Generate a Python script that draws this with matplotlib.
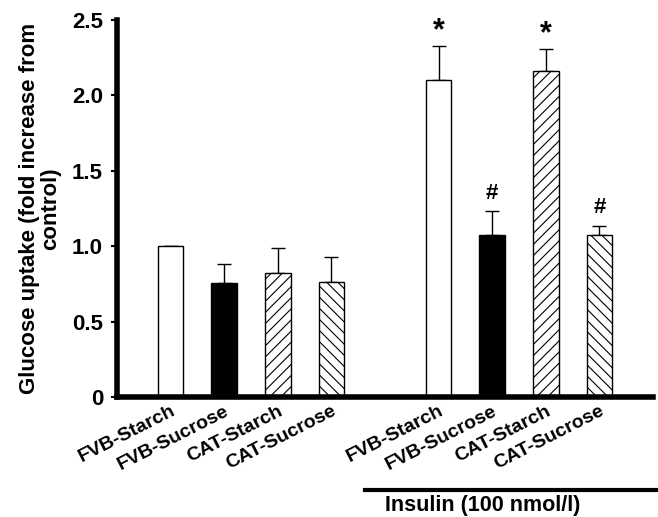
import matplotlib
matplotlib.use("Agg")
import matplotlib.pyplot as plt

# datos
labels = ["FVB-Starch", "FVB-Sucrose", "CAT-Starch", "CAT-Sucrose",
          "FVB-Starch", "FVB-Sucrose", "CAT-Starch", "CAT-Sucrose"]
posiciones = [1, 2, 3, 4, 6, 7, 8, 9]
valores = [1.0, 0.755, 0.825, 0.76, 2.10, 1.075, 2.16, 1.075]
errores = [0.0, 0.13, 0.165, 0.17, 0.225, 0.157, 0.146, 0.06]
marcas = ["", "", "", "", "*", "#", "*", "#"]

colores = ["white", "black", "white", "white"] * 2
tramas = [None, None, "///", "\\\\\\"] * 2

plt.rcParams["font.family"] = ["Liberation Sans", "DejaVu Sans"]
plt.rcParams["font.weight"] = "bold"
plt.rcParams["hatch.linewidth"] = 0.8

fig = plt.figure(figsize=(6.58, 5.17), dpi=100)
ax = fig.add_axes([117 / 658, 1 - 397 / 517, (653 - 117) / 658, 377 / 517])

ax.bar(posiciones, valores, width=0.48, color=colores, edgecolor="black",
       linewidth=1, hatch=tramas, zorder=2)
ax.errorbar(posiciones, valores, yerr=[[0] * len(errores), errores],
            fmt="none", ecolor="black", elinewidth=1, capsize=5, capthick=1,
            zorder=1)

for x, v, e, m in zip(posiciones, valores, errores, marcas):
    if m:
        dy = 0.0 if m == "*" else 0.05
        ax.text(x, v + e + dy, m, ha="center", va="bottom",
                fontsize=22 if m == "*" else 16, fontweight="bold")

ax.set_xlim(0, 10)
ax.set_ylim(0, 2.5)
ax.set_yticks([0, 0.5, 1.0, 1.5, 2.0, 2.5])
ax.set_yticklabels(["0", "0.5", "1.0", "1.5", "2.0", "2.5"],
                   fontsize=16, fontweight="bold")
ax.set_xticks(posiciones)
ax.set_xticklabels(labels, rotation=27, ha="right", rotation_mode="anchor",
                   fontsize=14, fontweight="bold")
ax.tick_params(axis="x", length=0, pad=4)
ax.tick_params(axis="y", length=4, width=1.5, direction="out", pad=6)

ax.spines["top"].set_visible(False)
ax.spines["right"].set_visible(False)
ax.spines["left"].set_linewidth(4)
ax.spines["bottom"].set_linewidth(4)

ax.set_ylabel("Glucose uptake (fold increase from\ncontrol)",
              fontsize=16, fontweight="bold", labelpad=8, linespacing=1.0)

# barra de insulina
fig.add_artist(plt.Line2D([365 / 658, 657 / 658], [1 - 490 / 517, 1 - 490 / 517],
                          color="black", linewidth=3))
fig.text(483 / 658, 1 - 505 / 517, "Insulin (100 nmol/l)", ha="center",
         va="center", fontsize=15.5, fontweight="bold")

fig.savefig("out.png", dpi=100)
